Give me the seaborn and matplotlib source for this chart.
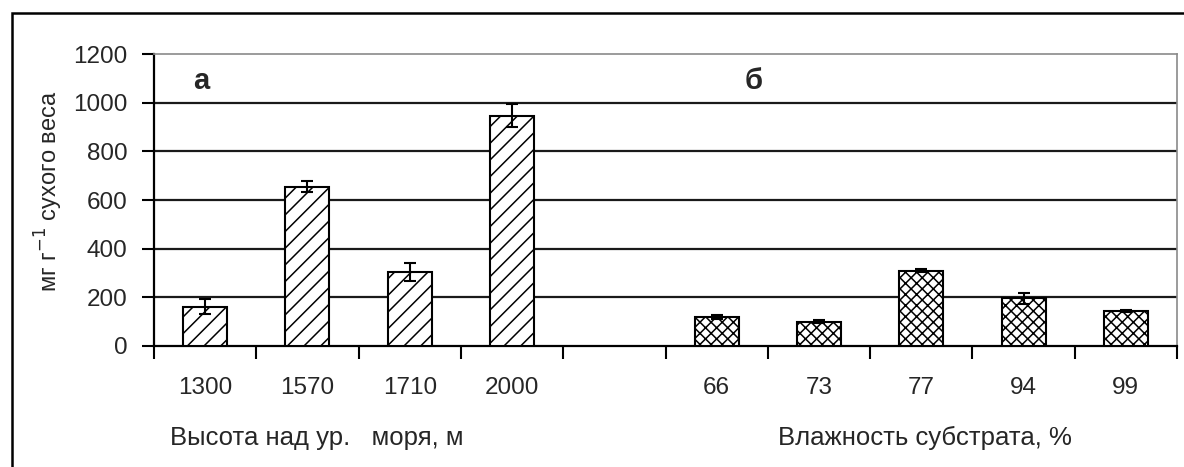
import matplotlib
matplotlib.use("Agg")
import matplotlib.pyplot as plt
from matplotlib.patches import Rectangle
import seaborn as sns
import pandas as pd
import numpy as np

# ---- data ----
alt_labels = ['1300', '1570', '1710', '2000']
alt_vals = [162, 655, 305, 946]
alt_err = [30, 24, 37, 47]
hum_labels = ['66', '73', '77', '94', '99']
hum_vals = [118, 100, 310, 196, 144]
hum_err = [8, 6, 6, 22, 3]
gap_label = ' '
y_ticks = [0, 200, 400, 600, 800, 1000, 1200]

sns.set_theme(style="white")
plt.rcParams['font.family'] = ['Liberation Sans', 'DejaVu Sans']
plt.rcParams['hatch.linewidth'] = 1.1
plt.rcParams['hatch.color'] = 'black'

order = alt_labels + [gap_label] + hum_labels
df = pd.DataFrame({
    'cat': alt_labels + hum_labels,
    'val': alt_vals + hum_vals,
    'err': alt_err + hum_err,
    'grp': ['alt'] * len(alt_labels) + ['hum'] * len(hum_labels),
})

fig = plt.figure(figsize=(11.84, 4.67), dpi=100)
ax = fig.add_axes([154 / 1184, 1 - 346 / 467, (1177 - 154) / 1184, (346 - 54) / 467])

sns.barplot(data=df, x='cat', y='val', order=order, color='white',
            edgecolor='black', linewidth=1.5, width=0.43, errorbar=None,
            saturation=1, ax=ax, zorder=3)

# hatches per group
for p in ax.patches:
    xc = p.get_x() + p.get_width() / 2
    idx = int(round(xc))
    if idx < len(alt_labels):
        p.set_hatch('//')
    else:
        p.set_hatch('xxx')
    p.set_facecolor('white')
    p.set_edgecolor('black')

xpos = [order.index(c) for c in df['cat']]
ax.errorbar(xpos, df['val'], yerr=df['err'], fmt='none', ecolor='black',
            elinewidth=1.5, capsize=4.5, capthick=1.5, zorder=4)

fs = 17.5
ax.set_ylim(0, 1200)
ax.set_xlim(-0.5, len(order) - 0.5)
ax.set_yticks(y_ticks)
ax.set_yticklabels([str(v) for v in y_ticks], fontsize=fs)
for v in y_ticks[1:-1]:
    ax.axhline(v, color='#1a1a1a', lw=1.6, zorder=1)

# x ticks at boundaries, labels centered
ax.set_xticks(np.arange(-0.5, len(order), 1.0))
ax.set_xticklabels([])
ax.set_xticks(np.arange(len(order)), minor=True)
ax.set_xticklabels(order, minor=True, fontsize=fs)
ax.tick_params(axis='x', which='major', direction='out', length=9, width=1.5,
               color='black', bottom=True)
ax.tick_params(axis='x', which='minor', length=0, pad=22)
ax.tick_params(axis='y', direction='out', length=9, width=1.5, color='black',
               left=True, pad=10)

for s in ['left', 'bottom']:
    ax.spines[s].set_color('black')
    ax.spines[s].set_linewidth(1.6)
for s in ['top', 'right']:
    ax.spines[s].set_color('#8a8a8a')
    ax.spines[s].set_linewidth(1.2)

ax.set_xlabel('')
ax.set_ylabel('мг г$^{-1}$ сухого веса', fontsize=17)
ax.yaxis.set_label_coords(-0.087, 0.53)

# group axis labels
trans = ax.get_xaxis_transform()
ax.text(-0.34, -0.315, 'Высота над ур.   моря, м', transform=trans,
        fontsize=18.5, ha='left', va='center')
ax.text(5.6, -0.315, 'Влажность субстрата, %', transform=trans,
        fontsize=18.5, ha='left', va='center')

# panel letters
ax.text(-0.04, 1090, 'а', fontsize=21, fontweight='bold', ha='center', va='center')
ax.text(5.36, 1090, 'б', fontsize=21, fontweight='bold', ha='center', va='center')

# outer frame (cropped at right and bottom)
fig.add_artist(Rectangle((12 / 1184, -0.1), 1.2, 1 - 13 / 467 + 0.1,
                         transform=fig.transFigure, fill=False,
                         edgecolor='black', lw=1.8))

fig.savefig('out.png', dpi=100)
